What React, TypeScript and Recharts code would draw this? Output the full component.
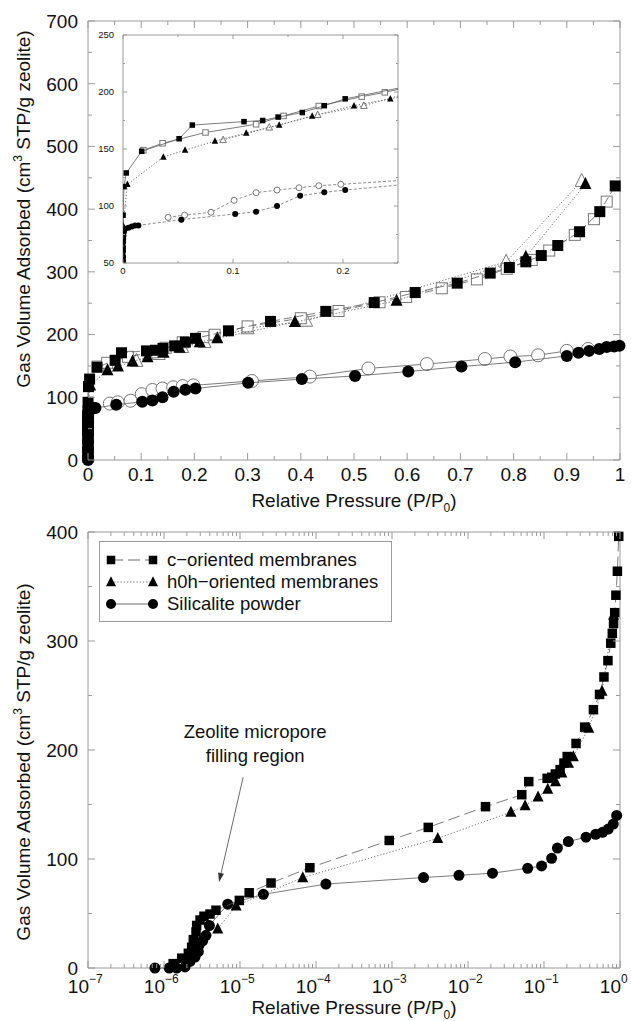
import React from "react";
import {
  ScatterChart,
  Scatter,
  XAxis,
  YAxis,
  ReferenceArea,
  ReferenceLine,
  Legend,
} from "recharts";

type Pt = [number, number];

// [P/P0, cm3 STP/g] — adsorption (filled) and desorption (open) branches
const cOrientedAds: Pt[] = [
  [1.32e-6, 4], [1.71e-6, 9], [2.09e-6, 13.5], [2.31e-6, 19], [2.43e-6, 26],
  [2.64e-6, 33], [2.69e-6, 39], [2.98e-6, 44], [3.36e-6, 47.5], [4.03e-6, 49.5],
  [4.83e-6, 53], [9.8e-6, 62], [1.32e-5, 69], [2.56e-5, 78], [8.3e-5, 92],
  [9.2e-4, 117], [3.0e-3, 129], [0.017, 148], [0.051, 159], [0.063, 171],
  [0.11, 174], [0.127, 175], [0.141, 178], [0.163, 182], [0.183, 188],
  [0.202, 194], [0.264, 206], [0.343, 221], [0.447, 237], [0.538, 251],
  [0.615, 267], [0.694, 282], [0.756, 298], [0.792, 307], [0.823, 316],
  [0.852, 326], [0.883, 342], [0.924, 364], [0.962, 396], [0.991, 437],
];

const cOrientedDes: Pt[] = [
  [0.0185, 149], [0.036, 155], [0.075, 164.5], [0.121, 171.7], [0.146, 179],
  [0.178, 187.7], [0.217, 195.9], [0.238, 199.7], [0.3, 213], [0.4, 226],
  [0.471, 237.6], [0.548, 251.5], [0.598, 260], [0.665, 273.8], [0.731, 288],
  [0.787, 305], [0.834, 319], [0.867, 334], [0.915, 359], [0.951, 384],
  [0.975, 412],
];

const h0hAds: Pt[] = [
  [5.1e-6, 36], [8.9e-6, 57], [6.7e-5, 83], [0.004, 119], [0.0367, 143],
  [0.0564, 149], [0.0836, 157], [0.112, 164], [0.142, 171], [0.172, 179],
  [0.21, 188], [0.243, 194], [0.389, 220], [0.58, 254], [0.823, 324],
  [0.935, 440],
];

const h0hDes: Pt[] = [
  [0.091, 158], [0.133, 169], [0.177, 180], [0.219, 188], [0.3, 210],
  [0.41, 222], [0.786, 316], [0.928, 445],
];

const silicaliteAds: Pt[] = [
  [1e-6, 0], [2e-6, 5], [3e-6, 18], [4e-6, 30], [6e-6, 42], [1e-5, 52],
  [2e-5, 56], [4e-5, 60], [7e-5, 64], [1.2e-4, 68], [2e-4, 71], [4e-4, 74],
  [7e-4, 77], [0.001, 79], [0.002, 80], [0.005, 81], [0.008, 82], [0.011, 83],
  [0.014, 83], [0.053, 88], [0.102, 93], [0.121, 95], [0.14, 100],
  [0.161, 109], [0.183, 112], [0.202, 114], [0.301, 123], [0.402, 129],
  [0.502, 134], [0.602, 141], [0.702, 149], [0.803, 156], [0.9, 166],
  [0.922, 171], [0.942, 174], [0.961, 177], [0.975, 180], [0.989, 181],
  [0.999, 182],
];

const silicaliteDes: Pt[] = [
  [0.041, 90], [0.056, 92], [0.08, 94.5], [0.101, 105], [0.121, 111.7],
  [0.14, 114], [0.16, 116], [0.178, 117.8], [0.198, 119], [0.308, 126],
  [0.417, 133], [0.527, 146], [0.637, 153], [0.746, 161], [0.794, 165],
  [0.846, 167], [0.9, 174], [0.94, 177],
];

const silicaliteAdsLog: Pt[] = [
  [7.6e-7, 0], [1.17e-6, 0], [1.47e-6, 0], [1.89e-6, 1], [2.2e-6, 6],
  [2.56e-6, 10], [2.83e-6, 15], [2.9e-6, 21], [3.23e-6, 25], [3.57e-6, 30],
  [3.95e-6, 39], [6.9e-6, 58.5], [2.03e-5, 67.6], [1.35e-4, 77], [2.6e-3, 83],
  [7.6e-3, 85], [0.021, 87], [0.061, 91.5], [0.093, 93.6], [0.126, 100.6],
  [0.15, 110], [0.209, 116], [0.357, 120], [0.478, 122.6], [0.59, 124.5],
  [0.7, 127.5], [0.816, 132], [0.904, 140],
];

const legendNames = ["c\u2212oriented membranes", "h0h\u2212oriented membranes", "Silicalite powder"];

const linXMajor = [0, 0.1, 0.2, 0.3, 0.4, 0.5, 0.6, 0.7, 0.8, 0.9, 1];
const linXMinor = [0.05, 0.15, 0.25, 0.35, 0.45, 0.55, 0.65, 0.75, 0.85, 0.95];
const topYMajor = [0, 100, 200, 300, 400, 500, 600, 700];
const topYMinor = [50, 150, 250, 350, 450, 550, 650];
const insetXMajor = [0, 0.1, 0.2];
const insetXMinor = [0.05, 0.15, 0.25];
const insetYMajor = [50, 100, 150, 200, 250];
const insetYMinor = [75, 125, 175, 225];
const logDecades = [1e-7, 1e-6, 1e-5, 1e-4, 1e-3, 1e-2, 1e-1, 1];
const logYMajor = [0, 100, 200, 300, 400];
const logYMinor = [50, 150, 250, 350];

// annotation arrow, in data units of the log plot
const arrowFrom = { p: 1.1e-5, v: 175 };
const arrowTo = { p: 5.3e-6, v: 79 };

const FONT = "'Liberation Sans', Arial, Helvetica, sans-serif";
const INK = "#111";
const AXIS = "#9a9a9a";
const LINE = "#5a5a5a";
const OPEN = "#777";

const rows = (pts: Pt[]) => pts.map(([p, v]) => ({ p, v }));
const upTo = (pts: Pt[], max: number) => pts.filter(([, v]) => v <= max);
const sortNum = (a: number[]) => [...a].sort((x, y) => x - y);

const logMinor = logDecades.slice(0, -1).flatMap((d) => [2, 3, 4, 5, 6, 7, 8, 9].map((k) => k * d));

type Kind = "square" | "triangle" | "circle";

const marker = (kind: Kind, size: number, filled: boolean) => (props: any) => {
  const { cx, cy } = props;
  if (typeof cx !== "number" || typeof cy !== "number") return <g />;
  const fill = filled ? "#000" : "#fff";
  const stroke = filled ? "#000" : OPEN;
  const sw = filled ? 0 : 1;
  const h = size / 2;
  if (kind === "square")
    return <rect x={cx - h} y={cy - h} width={size} height={size} fill={fill} stroke={stroke} strokeWidth={sw} />;
  if (kind === "circle") return <circle cx={cx} cy={cy} r={h} fill={fill} stroke={stroke} strokeWidth={sw} />;
  const t = cy - size * 0.58;
  const b = cy + size * 0.42;
  return <polygon points={`${cx},${t} ${cx + h},${b} ${cx - h},${b}`} fill={fill} stroke={stroke} strokeWidth={sw} />;
};

const solid = { stroke: LINE, strokeWidth: 0.8 };
const dashed = { stroke: LINE, strokeWidth: 0.8, strokeDasharray: "8 4" };
const shortDash = { stroke: LINE, strokeWidth: 0.7, strokeDasharray: "3 2" };
const dotted = { stroke: LINE, strokeWidth: 0.9, strokeDasharray: "1.2 2" };

interface TickStyle {
  far: number;
  majors: number[];
  majorLen: number;
  minorLen: number;
}

type LabelFn = (x: number, y: number, v: number) => React.ReactNode;

// ticks point inward and are repeated on the opposite edge of the frame
const xTicks = (s: TickStyle, label: LabelFn) => (props: any) => {
  const { x, y, payload } = props;
  const v: number = payload.value;
  const major = s.majors.includes(v);
  const len = major ? s.majorLen : s.minorLen;
  return (
    <g>
      <line x1={x} y1={y} x2={x} y2={y - len} stroke={AXIS} />
      <line x1={x} y1={s.far} x2={x} y2={s.far + len} stroke={AXIS} />
      {major ? label(x, y, v) : null}
    </g>
  );
};

const yTicks = (s: TickStyle, label: LabelFn) => (props: any) => {
  const { x, y, payload } = props;
  const v: number = payload.value;
  const major = s.majors.includes(v);
  const len = major ? s.majorLen : s.minorLen;
  return (
    <g>
      <line x1={x} y1={y} x2={x + len} y2={y} stroke={AXIS} />
      <line x1={s.far} y1={y} x2={s.far - len} y2={y} stroke={AXIS} />
      {major ? label(x, y, v) : null}
    </g>
  );
};

const xNum = (fs: number, gap: number): LabelFn => (x, y, v) => (
  <text x={x} y={y + gap} textAnchor="middle" fontSize={fs} fill={INK} fontFamily={FONT}>
    {String(v)}
  </text>
);

const yNum = (fs: number, gap: number): LabelFn => (x, y, v) => (
  <text x={x - gap} y={y} dy="0.36em" textAnchor="end" fontSize={fs} fill={INK} fontFamily={FONT}>
    {String(v)}
  </text>
);

const xPow: LabelFn = (x, y, v) => {
  const e = Math.round(Math.log10(v));
  return (
    <g fill={INK} fontFamily={FONT}>
      <text x={x + 1} y={y + 25} textAnchor="end" fontSize={19}>
        10
      </text>
      <text x={x + 1} y={y + 15} textAnchor="start" fontSize={12}>
        {e === 0 ? "0" : `\u2212${-e}`}
      </text>
    </g>
  );
};

const xTitle = (cx: number, y: number) => () => (
  <text x={cx} y={y} textAnchor="middle" fontSize={19} fill={INK} fontFamily={FONT}>
    Relative Pressure (P/P
    <tspan fontSize={12} dy={5}>
      0
    </tspan>
    <tspan dy={-5}>)</tspan>
  </text>
);

const yTitle = (x: number, cy: number) => () => (
  <text
    x={x}
    y={cy}
    transform={`rotate(-90 ${x} ${cy})`}
    textAnchor="middle"
    fontSize={19}
    fill={INK}
    fontFamily={FONT}
  >
    Gas Volume Adsorbed (cm
    <tspan fontSize={12} dy={-8}>
      3
    </tspan>
    <tspan dy={8}> STP/g zeolite)</tspan>
  </text>
);

// axes are 1px thick strips; everything visible on them comes from the tick renderers
const axisBase = {
  type: "number" as const,
  interval: 0 as const,
  axisLine: false,
  tickLine: false,
  tickSize: 0,
  tickMargin: 0,
};

function TopChart() {
  return (
    <ScatterChart width={631} height={520} margin={{ top: 21, right: 11, bottom: 59, left: 87 }}>
      <XAxis
        {...axisBase}
        dataKey="p"
        domain={[0, 1]}
        ticks={sortNum([...linXMajor, ...linXMinor])}
        height={1}
        tick={xTicks({ far: 21, majors: linXMajor, majorLen: 7, minorLen: 4 }, xNum(19, 21))}
        label={xTitle(354, 507)}
      />
      <YAxis
        {...axisBase}
        dataKey="v"
        domain={[0, 700]}
        ticks={sortNum([...topYMajor, ...topYMinor])}
        width={1}
        tick={yTicks({ far: 620, majors: topYMajor, majorLen: 7, minorLen: 4 }, yNum(19, 10))}
        label={yTitle(30, 209)}
      />
      <ReferenceArea x1={0} x2={1} y1={0} y2={700} fill="none" stroke={AXIS} strokeWidth={1} />
      <Scatter data={rows(silicaliteDes)} shape={marker("circle", 13, false)} line={solid} lineType="joint" isAnimationActive={false} />
      <Scatter data={rows(silicaliteAds)} shape={marker("circle", 12, true)} line={solid} lineType="joint" isAnimationActive={false} />
      <Scatter data={rows(h0hDes)} shape={marker("triangle", 13, false)} line={dotted} lineType="joint" isAnimationActive={false} />
      <Scatter data={rows(cOrientedDes)} shape={marker("square", 11, false)} line={dashed} lineType="joint" isAnimationActive={false} />
      <Scatter data={rows(h0hAds)} shape={marker("triangle", 12, true)} line={dotted} lineType="joint" isAnimationActive={false} />
      <Scatter data={rows(cOrientedAds)} shape={marker("square", 11, true)} line={dashed} lineType="joint" isAnimationActive={false} />
    </ScatterChart>
  );
}

function InsetChart() {
  return (
    <ScatterChart width={320} height={265} margin={{ top: 10, right: 17, bottom: 26, left: 27 }}>
      <XAxis
        {...axisBase}
        dataKey="p"
        domain={[0, 0.25]}
        allowDataOverflow
        ticks={sortNum([...insetXMajor, ...insetXMinor])}
        height={1}
        tick={xTicks({ far: 10, majors: insetXMajor, majorLen: 4, minorLen: 2 }, xNum(9.5, 11))}
      />
      <YAxis
        {...axisBase}
        dataKey="v"
        domain={[50, 250]}
        allowDataOverflow
        ticks={sortNum([...insetYMajor, ...insetYMinor])}
        width={1}
        tick={yTicks({ far: 303, majors: insetYMajor, majorLen: 4, minorLen: 2 }, yNum(9.5, 9))}
      />
      <ReferenceArea x1={0} x2={0.25} y1={50} y2={250} fill="none" stroke={AXIS} strokeWidth={1} />
      <Scatter data={rows(silicaliteDes)} shape={marker("circle", 6, false)} line={shortDash} lineType="joint" isAnimationActive={false} />
      <Scatter data={rows(silicaliteAds)} shape={marker("circle", 6, true)} line={shortDash} lineType="joint" isAnimationActive={false} />
      <Scatter data={rows(h0hDes)} shape={marker("triangle", 6.5, false)} line={dotted} lineType="joint" isAnimationActive={false} />
      <Scatter data={rows(cOrientedDes)} shape={marker("square", 5.5, false)} line={solid} lineType="joint" isAnimationActive={false} />
      <Scatter data={rows(h0hAds)} shape={marker("triangle", 6.5, true)} line={dotted} lineType="joint" isAnimationActive={false} />
      <Scatter data={rows(cOrientedAds)} shape={marker("square", 5.5, true)} line={solid} lineType="joint" isAnimationActive={false} />
    </ScatterChart>
  );
}

const legendStyles = [
  { kind: "square" as Kind, size: 8.5, line: { strokeDasharray: "12 5" } },
  { kind: "triangle" as Kind, size: 10, line: { strokeDasharray: "1.2 2" } },
  { kind: "circle" as Kind, size: 10, line: {} },
];

function LegendBox() {
  return (
    <div
      style={{
        width: 293,
        height: 81,
        boxSizing: "border-box",
        border: `1px solid ${AXIS}`,
        background: "#fff",
        paddingTop: 7,
        fontFamily: FONT,
        fontSize: 18.5,
        color: INK,
      }}
    >
      {legendNames.map((name, i) => {
        const st = legendStyles[i];
        const mk = marker(st.kind, st.size, true);
        return (
          <div key={name} style={{ display: "flex", alignItems: "center", height: 22, whiteSpace: "nowrap" }}>
            <svg width={62} height={22} style={{ flex: "none" }}>
              <line x1={11} y1={11} x2={53} y2={11} stroke={LINE} strokeWidth={0.9} {...st.line} />
              {mk({ cx: 11, cy: 11 })}
              {mk({ cx: 53, cy: 11 })}
            </svg>
            <span style={{ marginLeft: 5 }}>{name}</span>
          </div>
        );
      })}
    </div>
  );
}

const arrowShape = (props: any) => {
  const { x1, y1, x2, y2 } = props;
  if (typeof x1 !== "number") return <g />;
  const ang = Math.atan2(y2 - y1, x2 - x1);
  const L = 9;
  const W = 3;
  const bx = x2 - L * Math.cos(ang);
  const by = y2 - L * Math.sin(ang);
  const px = -Math.sin(ang) * W;
  const py = Math.cos(ang) * W;
  return (
    <g>
      <line x1={x1} y1={y1} x2={bx} y2={by} stroke={LINE} strokeWidth={0.9} />
      <polygon points={`${x2},${y2} ${bx + px},${by + py} ${bx - px},${by - py}`} fill="#333" />
      <g fontFamily={FONT} fontSize={18.5} fill={INK} textAnchor="middle">
        <text x={x1 + 12} y={y1 - 39}>Zeolite micropore</text>
        <text x={x1 + 12} y={y1 - 15}>filling region</text>
      </g>
    </g>
  );
};

function BottomChart() {
  return (
    <ScatterChart width={631} height={501} margin={{ top: 12, right: 11, bottom: 52, left: 87 }}>
      <XAxis
        {...axisBase}
        dataKey="p"
        scale="log"
        domain={[1e-7, 1]}
        ticks={sortNum([...logDecades, ...logMinor])}
        height={1}
        tick={xTicks({ far: 12, majors: logDecades, majorLen: 7, minorLen: 4 }, xPow)}
        label={xTitle(354, 494)}
      />
      <YAxis
        {...axisBase}
        dataKey="v"
        domain={[0, 400]}
        ticks={sortNum([...logYMajor, ...logYMinor])}
        width={1}
        tick={yTicks({ far: 620, majors: logYMajor, majorLen: 7, minorLen: 4 }, yNum(19, 10))}
        label={yTitle(30, 242)}
      />
      <ReferenceArea x1={1e-7} x2={1} y1={0} y2={400} fill="none" stroke={AXIS} strokeWidth={1} />
      <Legend
        layout="vertical"
        align="center"
        verticalAlign="middle"
        content={() => <LegendBox />}
        wrapperStyle={{ position: "absolute", left: 99, top: 21, width: 293, height: 81 }}
      />
      <ReferenceLine
        segment={[
          { x: arrowFrom.p, y: arrowFrom.v },
          { x: arrowTo.p, y: arrowTo.v },
        ]}
        shape={arrowShape}
      />
      <Scatter data={rows(silicaliteAdsLog)} shape={marker("circle", 11, true)} line={solid} lineType="joint" isAnimationActive={false} />
      <Scatter data={rows(upTo(h0hAds, 400))} shape={marker("triangle", 11, true)} line={dotted} lineType="joint" isAnimationActive={false} />
      <Scatter data={rows(upTo(cOrientedAds, 400))} shape={marker("square", 9.5, true)} line={{ ...dashed, strokeDasharray: "12 5" }} lineType="joint" isAnimationActive={false} />
    </ScatterChart>
  );
}

export default function App() {
  return (
    <div style={{ position: "absolute", left: 0, top: 0, width: 631, height: 1021, background: "#fff", fontFamily: FONT }}>
      <div style={{ position: "absolute", left: 0, top: 0 }}>
        <TopChart />
      </div>
      <div style={{ position: "absolute", left: 123, top: 35, width: 275, height: 228, background: "#fff" }} />
      <div style={{ position: "absolute", left: 95, top: 25 }}>
        <InsetChart />
      </div>
      <div style={{ position: "absolute", left: 0, top: 520 }}>
        <BottomChart />
      </div>
    </div>
  );
}
